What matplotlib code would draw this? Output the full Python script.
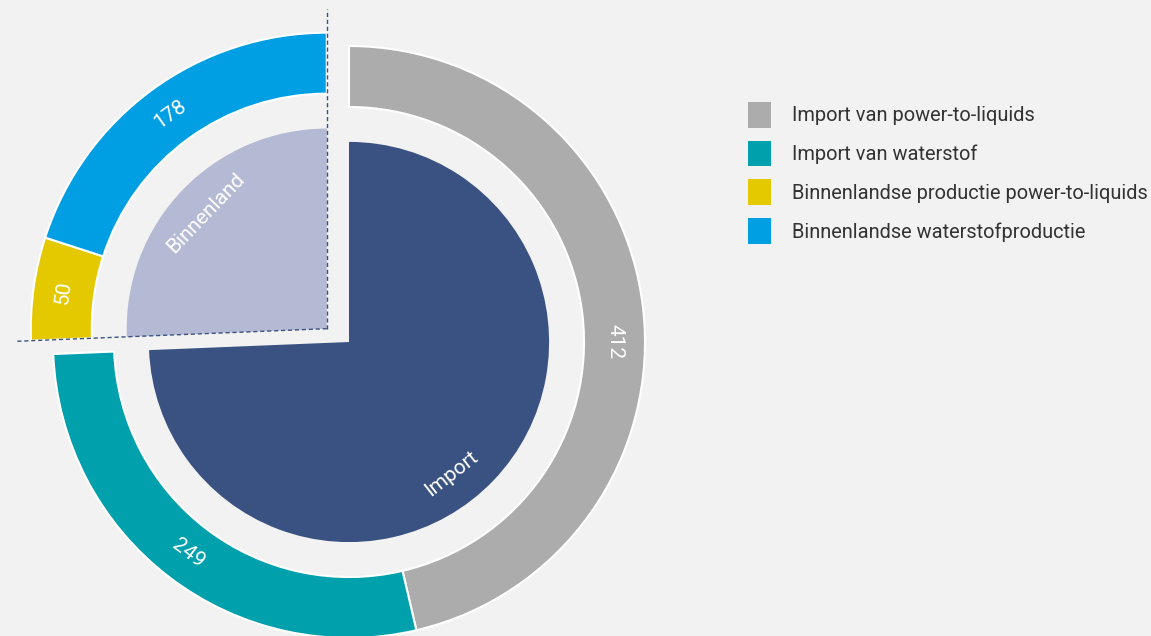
import matplotlib.pyplot as plt
import numpy as np
from matplotlib.patches import Patch

# data (outer ring, inner pie)
outer_labels = ['Import van power-to-liquids', 'Import van waterstof',
                'Binnenlandse productie power-to-liquids', 'Binnenlandse waterstofproductie']
outer_values = [412, 249, 50, 178]
inner_labels = ['Import', 'Binnenland']
inner_values = [412 + 249, 50 + 178]

outer_colors = ['#abacab', '#00a0ad', '#e5c900', '#009fe3']
inner_colors = ['#3a5282', '#b5bad4']
bg = '#f2f2f2'

plt.rcParams['font.family'] = ['Roboto', 'DejaVu Sans']

# pixel layout of the figure
W, H = 1151, 636
R = 296.0            # outer radius in px
cx, cy = 349, 342    # pie centre in px (from top left)

fig = plt.figure(figsize=(W / 100, H / 100), dpi=100, facecolor=bg)
ax = fig.add_axes([0, 0, 1, 1])
ax.set_facecolor(bg)

w_out, _ = ax.pie(outer_values, radius=1.0, startangle=90, counterclock=False,
                  colors=outer_colors,
                  wedgeprops=dict(width=0.206, edgecolor='white', linewidth=1.5))
w_in, _ = ax.pie(inner_values, radius=0.676, startangle=90, counterclock=False,
                 colors=inner_colors, wedgeprops=dict(linewidth=0))

# pull the domestic part (Binnenland) out to the upper left
shift = np.array([-0.075, 0.045])
for w in [w_in[1], w_out[2], w_out[3]]:
    w.set_center(tuple(np.array(w.center) + shift))


def label_rot(ang):
    rot = (ang - 90 + 180) % 360 - 180
    if rot > 90:
        rot -= 180
    elif rot < -90:
        rot += 180
    return rot


# value labels on the outer ring
outer_angle_override = {0: 0.0}
for i, (w, v) in enumerate(zip(w_out, outer_values)):
    ang = outer_angle_override.get(i, (w.theta1 + w.theta2) / 2)
    r = 0.897
    x = w.center[0] + r * np.cos(np.radians(ang))
    y = w.center[1] + r * np.sin(np.radians(ang))
    ax.text(x, y, str(v), color='white', fontsize=15,
            rotation=label_rot(ang), ha='center', va='center', rotation_mode='anchor')

# category labels on the inner pie
inner_angle_override = {0: -52.0}
for i, (w, lab) in enumerate(zip(w_in, inner_labels)):
    ang = inner_angle_override.get(i, (w.theta1 + w.theta2) / 2)
    r = 0.565
    x = w.center[0] + r * np.cos(np.radians(ang))
    y = w.center[1] + r * np.sin(np.radians(ang))
    ax.text(x, y, lab, color='white', fontsize=15,
            rotation=label_rot(ang), ha='center', va='center', rotation_mode='anchor')

# dashed guide lines along the edges of the pulled-out slice
c = np.array(w_in[1].center)
for ang, length in [(w_in[1].theta1, 1.08), (w_in[1].theta2, 1.054)]:
    end = c + length * np.array([np.cos(np.radians(ang)), np.sin(np.radians(ang))])
    ax.plot([c[0], end[0]], [c[1], end[1]], color='#3a5282', lw=1,
            linestyle=(0, (3, 2)), zorder=5)

ax.set_xlim(-cx / R, (W - cx) / R)
ax.set_ylim(-(H - cy) / R, cy / R)
ax.set_aspect('equal')
ax.axis('off')

# legend
handles = [Patch(facecolor=col, edgecolor='none') for col in outer_colors]
fs = 14.4
fpx = fs * 100 / 72
fig.legend(handles, outer_labels, loc='upper left',
           bbox_to_anchor=(748 / W, 1 - 102 / H), frameon=False,
           fontsize=fs, labelcolor='#333333', borderpad=0, borderaxespad=0,
           handlelength=23 / fpx, handleheight=1.6, handletextpad=21 / fpx,
           labelspacing=0.65)

fig.savefig('out.png', dpi=100, facecolor=bg)
